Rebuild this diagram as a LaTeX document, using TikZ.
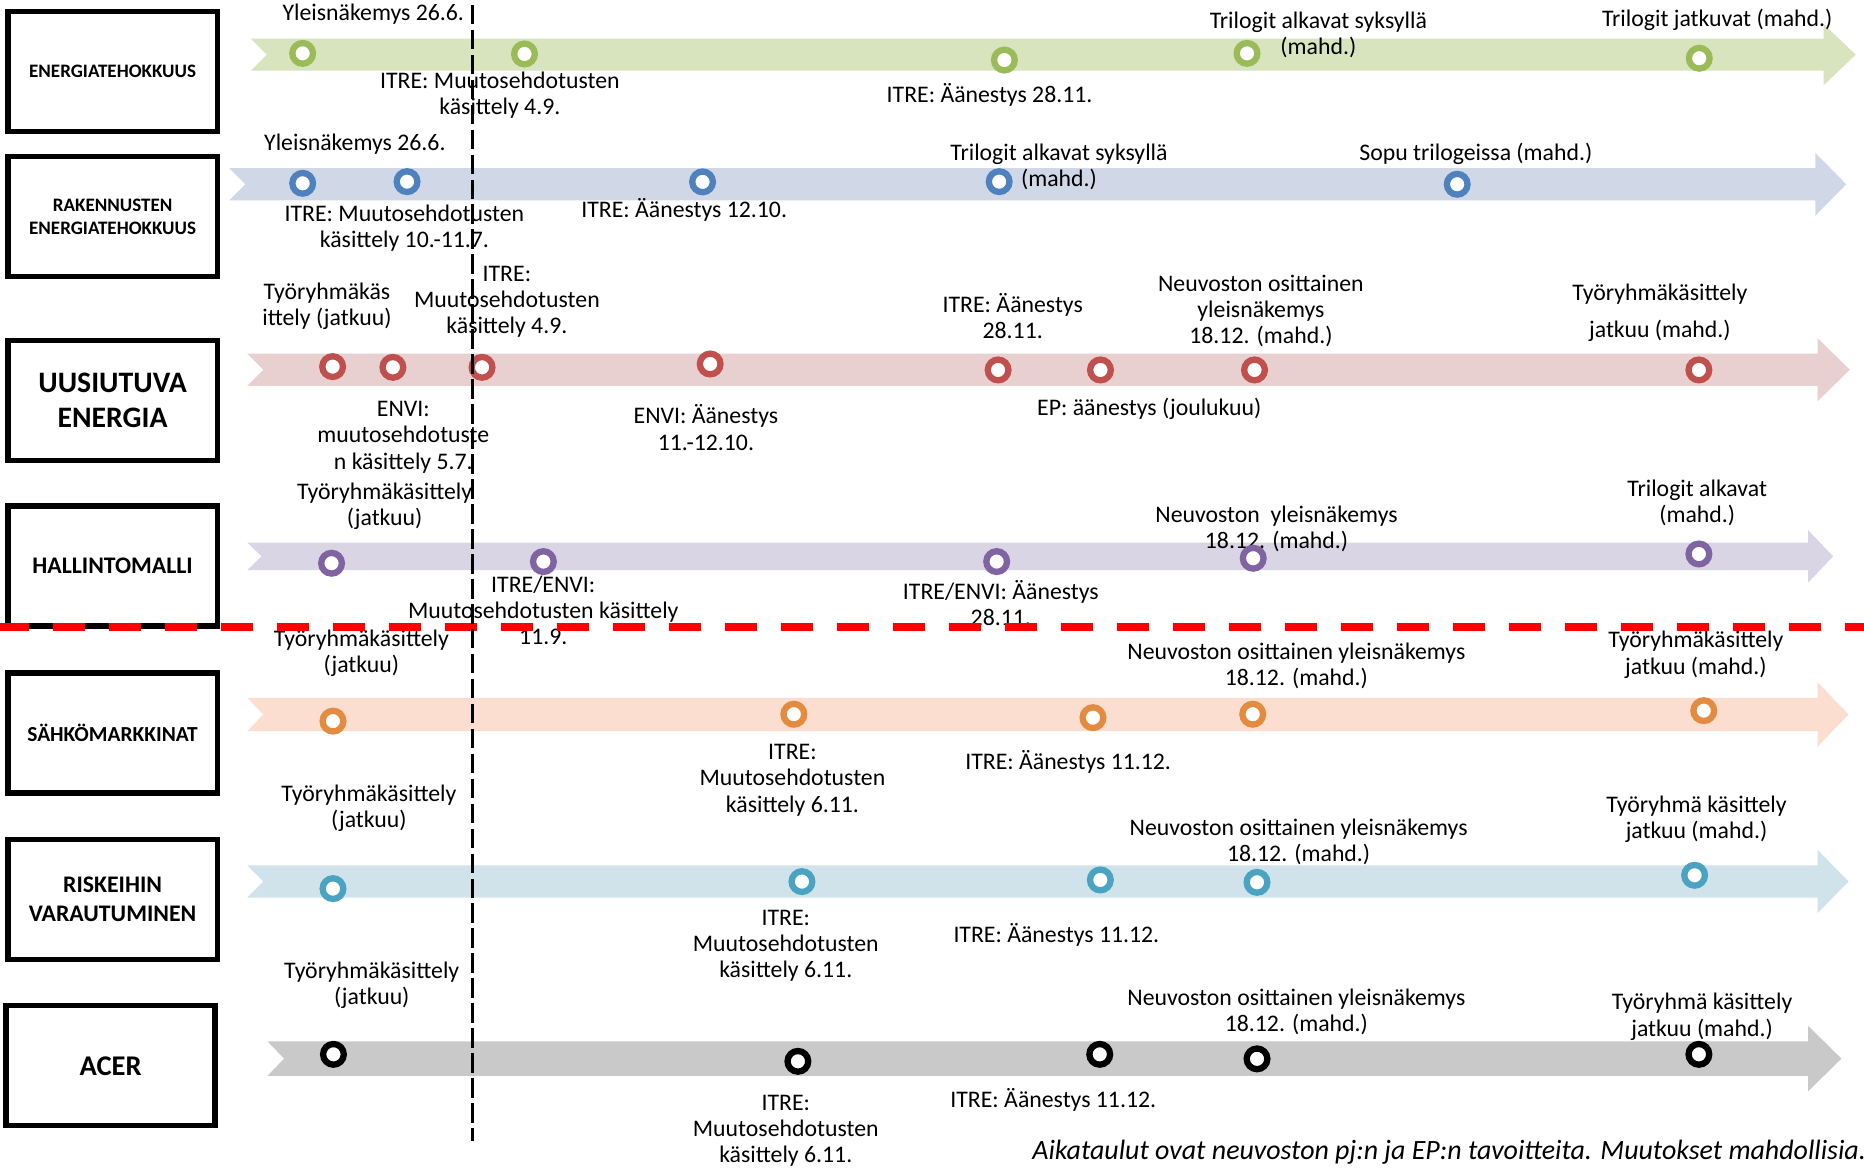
\documentclass[tikz,border=0pt]{standalone}
\usepackage{fontspec}
\setmainfont{Carlito}

\definecolor{greenband}{HTML}{D7E4BD}
\definecolor{greenring}{HTML}{9BBB59}
\definecolor{blueband}{HTML}{D0D8E8}
\definecolor{bluering}{HTML}{4F81BD}
\definecolor{redband}{HTML}{E8D0D1}
\definecolor{redring}{HTML}{C0504D}
\definecolor{purpleband}{HTML}{D9D5E4}
\definecolor{purplering}{HTML}{8064A2}
\definecolor{orangeband}{HTML}{FCDED0}
\definecolor{orangering}{HTML}{E38B3F}
\definecolor{tealband}{HTML}{D0E3EA}
\definecolor{tealring}{HTML}{4AA3C0}
\definecolor{grayband}{HTML}{C9C9C9}

\tikzset{%
  topic/.style={
    rectangle,
    draw,
    line width=4.5pt,
    minimum width=176pt,
    minimum height=101pt,
    inner sep=0pt,
    align=center
  },
  milestone/.style={
    circle,
    draw,
    fill=white,
    line width=5.3pt,
    minimum size=17.4pt,
    inner sep=0pt
  },
  note/.style={
    inner sep=0pt,
    align=center,
    font=\fontsize{20}{22}\selectfont,
    execute at begin node=\strut,
    execute at end node=\strut
  },
}

\begin{document}
\begin{tikzpicture}[x=1pt,y=-1pt]
\useasboundingbox (0,0) rectangle (1568,982);
\clip (0,0) rectangle (1568,982);
\fill[white] (0,0) rectangle (1568,982);

% aikajanat
\fill[greenband] (211,32.5) -- (1534,32.5) -- (1534,20.3) -- (1561,46) -- (1534,71.7) -- (1534,59.5) -- (211,59.5) -- (224.5,46) -- cycle;
\fill[blueband] (193,141.5) -- (1527,141.5) -- (1527,128.5) -- (1553,155) -- (1527,181.5) -- (1527,168.5) -- (193,168.5) -- (206.5,155) -- cycle;
\fill[redband] (208,297.5) -- (1529,297.5) -- (1529,284.5) -- (1556,311) -- (1529,337.5) -- (1529,324.5) -- (208,324.5) -- (221.5,311) -- cycle;
\fill[purpleband] (208,456.4) -- (1521,456.4) -- (1521,446) -- (1542,468) -- (1521,490) -- (1521,479.6) -- (208,479.6) -- (220,468) -- cycle;
\fill[orangeband] (208,587) -- (1529,587) -- (1529,574) -- (1555,601) -- (1529,628) -- (1529,615) -- (208,615) -- (221.5,601) -- cycle;
\fill[tealband] (208,728) -- (1529,728) -- (1529,715) -- (1555,741.5) -- (1529,768) -- (1529,755) -- (208,755) -- (221.5,741.5) -- cycle;
\fill[grayband] (225,876) -- (1521,876) -- (1521,863) -- (1549,890.5) -- (1521,918) -- (1521,905) -- (225,905) -- (239,890.5) -- cycle;

% energiatehokkuus
\node[note] (ee-a) at (314,13) {Yleisnäkemys 26.6.};
\node[note] (ee-b) at (420.5,81.8) {ITRE: Muutosehdotusten\\käsittely 4.9.};
\node[note] (ee-c) at (832.4,81.1) {ITRE: Äänestys 28.11.};
\node[note] (ee-d) at (1109,31.1) {Trilogit alkavat syksyllä\\(mahd.)};
\node[note] (ee-e) at (1444.5,18) {Trilogit jatkuvat (mahd.)};

% rakennusten energiatehokkuus
\node[note] (re-a) at (298.5,121.8) {Yleisnäkemys 26.6.};
\node[note] (re-b) at (340.2,193.7) {ITRE: Muutosehdotusten\\käsittely 10.-11.7.};
\node[note] (re-c) at (575.5,177.9) {ITRE: Äänestys 12.10.};
\node[note] (re-d) at (890.8,142.6) {Trilogit alkavat syksyllä\\(mahd.)};
\node[note] (re-e) at (1241.5,131) {Sopu trilogeissa (mahd.)};

% uusiutuva energia
\node[note] (ue-a) at (275,259.5) {Työryhmäkäs\\ittely (jatkuu)};
\node[note] (ue-b) at (426.4,255.8) {ITRE:\\Muutosehdotusten\\käsittely 4.9.};
\node[note] (ue-c) at (339.3,369.5) {ENVI:\\muutosehdotuste\\n käsittely 5.7.};
\node[note] (ue-d) at (593.8,362.9) {ENVI: Äänestys\\11.-12.10.};
\node[note] (ue-e) at (851.9,269) {ITRE: Äänestys\\28.11.};
\node[note] (ue-f) at (1060.7,263.7) {Neuvoston osittainen\\yleisnäkemys\\18.12. (mahd.)};
\node[note] (ue-g) at (966.8,344.7) {EP: äänestys (joulukuu)};
\node[note] (ue-h) at (1396.3,264.8) {Työryhmäkäsittely\\[8.8pt]jatkuu (mahd.)};

% hallintomalli
\node[note] (hm-a) at (323.6,427.7) {Työryhmäkäsittely\\(jatkuu)};
\node[note] (hm-b) at (457,516.4) {ITRE/ENVI:\\Muutosehdotusten käsittely\\11.9.};
\node[note] (hm-c) at (841.9,510.3) {ITRE/ENVI: Äänestys\\28.11.};
\node[note] (hm-d) at (1073.8,447) {Neuvoston~ yleisnäkemys\\18.12. (mahd.)};
\node[note] (hm-e) at (1427.7,424.9) {Trilogit alkavat\\(mahd.)};

% sähkömarkkinat
\node[note] (sm-a) at (304,550.9) {Työryhmäkäsittely\\(jatkuu)};
\node[note] (sm-b) at (666.6,658) {ITRE:\\Muutosehdotusten\\käsittely 6.11.};
\node[note] (sm-c) at (898.5,642.7) {ITRE: Äänestys 11.12.};
\node[note] (sm-d) at (1090.5,562.2) {Neuvoston osittainen yleisnäkemys\\18.12. (mahd.)};
\node[note] (sm-e) at (1426.6,552.4) {Työryhmäkäsittely\\jatkuu (mahd.)};

% riskeihin varautuminen
\node[note] (rv-a) at (310.3,681.8) {Työryhmäkäsittely\\(jatkuu)};
\node[note] (rv-b) at (661,797.4) {ITRE:\\Muutosehdotusten\\käsittely 6.11.};
\node[note] (rv-c) at (888.6,787.8) {ITRE: Äänestys 11.12.};
\node[note] (rv-d) at (1092.4,709.8) {Neuvoston osittainen yleisnäkemys\\18.12. (mahd.)};
\node[note] (rv-e) at (1427.1,691) {Työryhmä käsittely\\jatkuu (mahd.)};

% acer
\node[note] (ac-a) at (312.7,830.5) {Työryhmäkäsittely\\(jatkuu)};
\node[note] (ac-b) at (661,953) {ITRE:\\Muutosehdotusten\\käsittely 6.11.};
\node[note] (ac-c) at (886,926.5) {ITRE: Äänestys 11.12.};
\node[note] (ac-d) at (1090.5,853) {Neuvoston osittainen yleisnäkemys\\18.12. (mahd.)};
\node[note] (ac-e) at (1431.8,856.9) {Työryhmä käsittely\\jatkuu (mahd.)};

% pallot
\foreach \x/\y [count=\i] in {254.6/44.9, 441.2/45.4, 844.9/50.5, 1049/44.9, 1429.4/49}
  \node[milestone, draw=greenring] (ee\i) at (\x,\y) {};
\foreach \x/\y [count=\i] in {254.6/154.2, 342.4/152.8, 591/153, 840.5/152.8, 1225.8/155}
  \node[milestone, draw=bluering] (re\i) at (\x,\y) {};
\foreach \x/\y [count=\i] in {279.8/308.4, 330.5/309, 405.5/309, 597.4/306.2, 839.6/311.2, 925.7/311.2, 1055.3/311.2, 1429.1/311.2}
  \node[milestone, draw=redring] (ue\i) at (\x,\y) {};
\foreach \x/\y [count=\i] in {278.9/473.8, 457.1/472.4, 838.4/472.4, 1054.2/469.6, 1429.1/466}
  \node[milestone, draw=purplering] (hm\i) at (\x,\y) {};
\foreach \x/\y [count=\i] in {280.1/606.6, 667.8/600.8, 919.4/603.7, 1053.8/600.8, 1433.2/597.8}
  \node[milestone, draw=orangering] (sm\i) at (\x,\y) {};
\foreach \x/\y [count=\i] in {280.1/747.5, 674.6/741.6, 925.6/740.2, 1057.4/742.2, 1425.5/736.3}
  \node[milestone, draw=tealring] (rv\i) at (\x,\y) {};
\foreach \x/\y [count=\i] in {280.5/886.9, 671.2/892.8, 925.1/886.9, 1057.4/890.7, 1429.1/886.9}
  \node[milestone, draw=black] (ac\i) at (\x,\y) {};

% aiheet
\node[topic, font=\bfseries\fontsize{16}{19.5}\selectfont] (energia) at (94.7,60) {ENERGIATEHOKKUUS};
\node[topic, font=\bfseries\fontsize{16}{19.5}\selectfont] (rakennus) at (94.7,182.3) {RAKENNUSTEN\\ENERGIATEHOKKUUS};
\node[topic, font=\bfseries\fontsize{25}{29}\selectfont] (uusiutuva) at (94.7,336.8) {UUSIUTUVA\\ENERGIA};
\node[topic, font=\bfseries\fontsize{20}{22}\selectfont] (hallinto) at (94.7,476) {HALLINTOMALLI};
\node[topic, font=\bfseries\fontsize{18}{22}\selectfont] (sahko) at (94.7,616.5) {SÄHKÖMARKKINAT};
\node[topic, font=\bfseries\fontsize{20}{24}\selectfont] (riski) at (94.7,756.5) {RISKEIHIN\\VARAUTUMINEN};
\node[topic, font=\bfseries\fontsize{24}{29}\selectfont] (acer) at (93,896.5) {ACER};

\node[anchor=base west, inner sep=0pt, font=\itshape\fontsize{23.5}{26}\selectfont] (huom) at (868.2,975) {Aikataulut ovat neuvoston pj:n ja EP:n tavoitteita. Muutokset mahdollisia.};

% rajat
\draw[red, line width=6.2pt, dash pattern=on 26.7pt off 20.4pt, dash phase=2.5pt] (0,527.4) -- (1568,527.4);
\draw[line width=2.6pt, dash pattern=on 16.5pt off 4.5pt] (397.3,4) -- (397.3,960);
\end{tikzpicture}
\end{document}
